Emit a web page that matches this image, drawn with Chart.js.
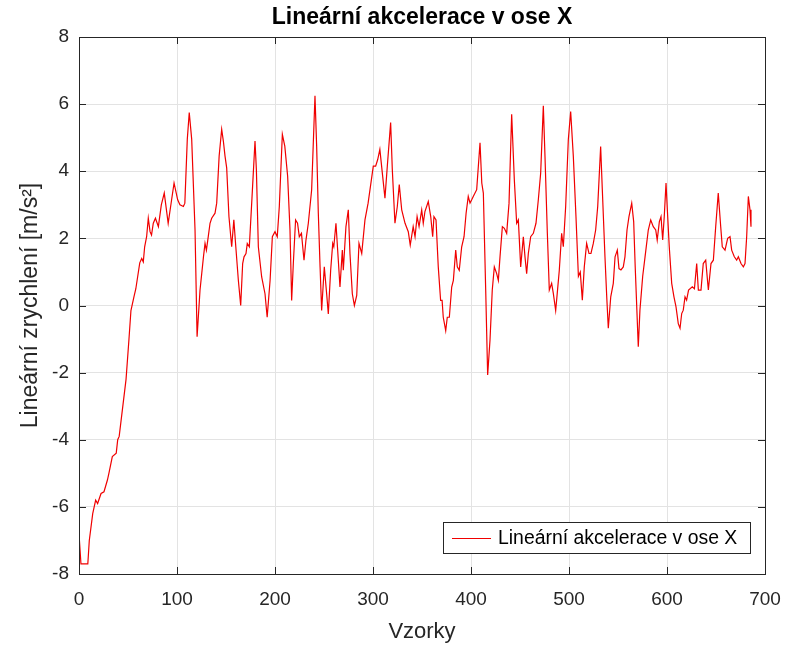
<!DOCTYPE html>
<html>
<head>
<meta charset="utf-8">
<script src="https://cdn.jsdelivr.net/npm/chart.js@4"></script>
<style>
  html, body { margin: 0; padding: 0; background: #fff; }
  #wrap { width: 786px; height: 645px; }
</style>
</head>
<body>
<div id="wrap"><canvas id="graph" width="786" height="645"></canvas></div>
<script>
// === DATA === //

const chartTitle = "Lineární akcelerace v ose X"
const xAxisTitle = "Vzorky"
const yAxisTitle = "Lineární zrychlení [m/s²]"
const seriesLabel = "Lineární akcelerace v ose X"

const xTicks = [0, 100, 200, 300, 400, 500, 600, 700]
const yTicks = [-8, -6, -4, -2, 0, 2, 4, 6, 8]

// sample index of each traced vertex
const sampleIdx = [
  0, 2, 9, 10.5, 14, 17, 19, 22.5, 25.5, 29, 30.5, 34, 38, 39.5, 41, 48, 51, 53, 56, 58,
  62, 64, 65.6, 67, 69, 70.7, 72.5, 74, 75.8, 78, 81, 84, 87, 91, 94.5, 97, 100.7, 103, 106.5, 108,
  110.5, 112.5, 115, 118.4, 120.5, 123.5, 127, 128.6, 130, 131.9, 133.7, 135.4, 138.8, 140.5, 143, 145.6, 147.3, 149, 150.7, 153,
  155.8, 158, 160, 162.6, 165, 167, 168.4, 170.4, 171.7, 173.8, 176.5, 179.6, 181, 183, 186.4, 189.8, 192, 195, 197.3, 200,
  202.3, 204.4, 207.5, 210, 212.9, 215.3, 217, 218.7, 221, 223, 224.8, 227, 229.6, 231.6, 234, 237.4, 240.8, 242.5, 244.2, 246,
  247.6, 250.3, 252.7, 254.4, 256.8, 258.9, 260, 262.2, 264.6, 266.3, 268.7, 269.7, 272.4, 274.8, 276.5, 278.9, 281, 283.4, 285.7, 288.5,
  291.8, 295, 300.3, 302.7, 304.8, 307, 309.5, 312.2, 314.6, 318, 319.7, 322.4, 324.8, 326.8, 329.3, 332.7, 336, 338, 341, 342.9,
  345, 347, 349.7, 351.3, 353, 356.4, 358.9, 360.9, 362.2, 364.3, 366.6, 369, 370.5, 371.7, 374.2, 375.8, 377.9, 380.3, 382, 384.4,
  386, 388, 390.5, 392.9, 395, 397.2, 399, 400.7, 402.3, 405.8, 409.2, 411, 412.6, 415, 417, 419.4, 421.7, 423.8, 426.2, 427.9,
  429.6, 432, 434, 436.4, 438.8, 441.5, 444.2, 446.6, 448.3, 450.7, 453.4, 455.1, 456.8, 458.5, 460.9, 463.6, 466.3, 468.7, 471.1, 473.8,
  475.5, 477.9, 479.9, 482.3, 484, 486.4, 488, 490.1, 492.5, 494.2, 496.6, 499.3, 501.7, 504.4, 507.1, 509.6, 511.5, 513.6, 515.6, 518,
  520.4, 522.4, 524.8, 527.2, 529.3, 532.3, 534, 536.7, 538.5, 540.1, 542.6, 545.2, 547, 549.3, 551, 553, 555.4, 557.1, 559.2, 561.2,
  564, 566, 567.5, 570.7, 572.4, 575.2, 577.6, 580.9, 583.4, 586, 588.5, 590, 592.2, 593.9, 595.6, 597.2, 599, 600.7, 602.3, 604.8,
  607.1, 609.2, 611.5, 613.3, 615, 616.6, 618.4, 620, 622, 625.8, 628, 630.3, 632, 634.7, 637, 639.5, 642.2, 644.9, 647.3, 649.7,
  652.3, 654.8, 656.4, 659.2, 661.9, 664.3, 666, 668.7, 671.1, 672.8, 675.5, 677.9, 679.6, 681.3, 683, 684.7, 685.7
]

// acceleration at each vertex [m/s^2]
const accelX = [
  -6.8, -7.7, -7.7, -7.0, -6.2, -5.8, -5.9, -5.6, -5.55, -5.2, -5.0, -4.5, -4.4, -4.0, -3.9, -2.2, -1.0, -0.15, 0.25, 0.5,
  1.27, 1.4, 1.3, 1.75, 2.05, 2.6, 2.2, 2.1, 2.45, 2.6, 2.35, 3.0, 3.35, 2.45, 3.15, 3.65, 3.15, 3.0, 2.95, 3.05,
  4.95, 5.75, 4.95, 2.25, -0.93, 0.46, 1.45, 1.85, 1.65, 2.05, 2.45, 2.6, 2.75, 3.05, 4.45, 5.25, 4.9, 4.45, 4.1, 2.65,
  1.75, 2.55, 1.75, 0.75, 0.0, 1.25, 1.45, 1.55, 1.85, 1.75, 3.2, 4.9, 4.05, 1.75, 0.85, 0.35, -0.35, 0.75, 2.05, 2.2,
  2.05, 2.95, 5.1, 4.75, 3.85, 2.25, 0.15, 1.25, 2.55, 2.45, 2.05, 2.15, 1.35, 1.95, 2.45, 3.45, 6.25, 4.75, 2.75, 1.15,
  -0.15, 1.15, 0.35, -0.25, 1.05, 1.85, 1.75, 2.45, 1.35, 0.55, 1.65, 1.05, 2.35, 2.85, 1.55, 0.35, 0.0, 0.3, 1.85, 1.55,
  2.55, 3.05, 4.15, 4.15, 4.35, 4.65, 3.95, 3.2, 4.15, 5.45, 4.05, 2.45, 2.95, 3.6, 2.85, 2.45, 2.2, 1.8, 2.35, 2.05,
  2.65, 2.35, 2.85, 2.45, 2.8, 3.1, 2.65, 2.05, 2.65, 2.55, 1.15, 0.15, 0.15, -0.35, -0.75, -0.35, -0.35, 0.55, 0.75, 1.65,
  1.15, 1.05, 1.75, 2.05, 2.75, 3.25, 3.05, 3.15, 3.25, 3.45, 4.85, 3.65, 3.35, 0.46, -2.07, -1.03, 0.46, 1.15, 0.95, 0.75,
  1.45, 2.35, 2.3, 2.15, 3.05, 5.7, 3.75, 2.45, 2.55, 1.15, 2.05, 1.45, 0.95, 1.55, 2.05, 2.15, 2.45, 3.15, 3.95, 5.95,
  4.45, 2.15, 0.46, 0.66, 0.36, -0.15, 0.36, 1.05, 2.15, 1.75, 2.95, 4.94, 5.78, 4.45, 2.66, 0.87, 1.0, 0.16, 1.15, 1.85,
  1.55, 1.55, 1.85, 2.25, 2.95, 4.74, 3.45, 1.45, 0.26, -0.68, 0.26, 0.66, 1.45, 1.65, 1.1, 1.06, 1.15, 1.45, 2.25, 2.65,
  3.05, 2.5, 1.2, -1.23, -0.13, 0.87, 1.45, 2.25, 2.55, 2.35, 2.25, 1.95, 2.5, 2.65, 1.95, 2.65, 3.65, 2.65, 1.75, 0.66,
  0.26, -0.04, -0.54, -0.68, -0.24, -0.14, 0.26, 0.16, 0.46, 0.56, 0.5, 1.25, 0.46, 0.46, 1.25, 1.35, 0.46, 1.25, 1.35, 2.35,
  3.35, 2.35, 1.75, 1.65, 2.0, 2.05, 1.65, 1.45, 1.35, 1.45, 1.25, 1.15, 1.25, 2.05, 3.25, 2.85, 2.35
]

// === STYLE === //

const textColor = "#262626"
const axisColor = "#262626"
const gridColor = "#e3e3e3"
const lineColor = "#f00000"
const fontFamily = "'Liberation Sans', Arial, Helvetica, sans-serif"

// === PLUGINS === //

// MATLAB-like box: frame, inward ticks, title, axis labels and legend inside the axes
const matlabDecor = {
  id: "matlabDecor",
  afterDraw(chart) {
    const ctx = chart.ctx
    const area = chart.chartArea
    const xs = chart.scales.x
    const ys = chart.scales.y
    const tickLen = 7

    ctx.save()
    ctx.strokeStyle = axisColor
    ctx.lineWidth = 1
    ctx.beginPath()
    xTicks.forEach(v => {
      const px = Math.round(xs.getPixelForValue(v)) + 0.5
      ctx.moveTo(px, area.bottom); ctx.lineTo(px, area.bottom - tickLen)
      ctx.moveTo(px, area.top); ctx.lineTo(px, area.top + tickLen)
    })
    yTicks.forEach(v => {
      const py = Math.round(ys.getPixelForValue(v)) + 0.5
      ctx.moveTo(area.left, py); ctx.lineTo(area.left + tickLen, py)
      ctx.moveTo(area.right, py); ctx.lineTo(area.right - tickLen, py)
    })
    ctx.stroke()
    ctx.strokeRect(Math.round(area.left) + 0.5, Math.round(area.top) + 0.5,
      Math.round(area.right - area.left), Math.round(area.bottom - area.top))

    // title
    ctx.fillStyle = "#000"
    ctx.textAlign = "center"
    ctx.textBaseline = "middle"
    ctx.font = "bold 23px " + fontFamily
    ctx.fillText(chartTitle, (area.left + area.right) / 2, 18)

    // axis titles
    ctx.fillStyle = textColor
    ctx.font = "22px " + fontFamily
    ctx.fillText(xAxisTitle, (area.left + area.right) / 2, 632)
    ctx.save()
    ctx.translate(31, (area.top + area.bottom) / 2)
    ctx.rotate(-Math.PI / 2)
    ctx.font = "23px " + fontFamily
    ctx.fillText(yAxisTitle, 0, 0)
    ctx.restore()

    // legend
    const lx = 443, ly = 522, lw = 307, lh = 31
    ctx.fillStyle = "#fff"
    ctx.fillRect(lx, ly, lw, lh)
    ctx.strokeStyle = axisColor
    ctx.strokeRect(lx + 0.5, ly + 0.5, lw, lh)
    ctx.strokeStyle = lineColor
    ctx.beginPath()
    ctx.moveTo(lx + 9, ly + 16.5)
    ctx.lineTo(lx + 48, ly + 16.5)
    ctx.stroke()
    ctx.fillStyle = "#000"
    ctx.textAlign = "left"
    ctx.font = "19.4px " + fontFamily
    ctx.fillText(chart.data.datasets[0].label, lx + 55, ly + 17)
    ctx.restore()
  }
}

// === CHART === //

function setupAccelChart() {
  const points = sampleIdx.map((s, i) => ({ x: s, y: accelX[i] }))

  const data = {
    datasets: [{
      label: seriesLabel,
      data: points,
      borderColor: lineColor,
      backgroundColor: lineColor,
      borderWidth: 1.2,
      pointRadius: 0,
      tension: 0
    }]
  }

  const config = {
    type: "line",
    data,
    options: {
      responsive: false,
      animation: false,
      layout: { padding: { top: 37, right: 21, left: 0, bottom: 0 } },
      plugins: {
        legend: { display: false },
        title: { display: false },
        tooltip: { enabled: false }
      },
      scales: {
        x: {
          type: "linear",
          min: 0,
          max: 700,
          afterBuildTicks: s => { s.ticks = xTicks.map(v => ({ value: v })) },
          afterFit: s => { s.height = 71; s.paddingLeft = 0; s.paddingRight = 0 },
          grid: { color: gridColor, drawTicks: false },
          border: { display: false },
          ticks: { color: textColor, font: { family: fontFamily, size: 19 }, padding: 14, maxRotation: 0 }
        },
        y: {
          type: "linear",
          min: -8,
          max: 8,
          afterBuildTicks: s => { s.ticks = yTicks.map(v => ({ value: v })) },
          afterFit: s => { s.width = 79; s.paddingTop = 0; s.paddingBottom = 0 },
          grid: { color: gridColor, drawTicks: false },
          border: { display: false },
          ticks: { color: textColor, font: { family: fontFamily, size: 19 }, padding: 10 }
        }
      }
    },
    plugins: [matlabDecor]
  }

  new Chart(document.getElementById("graph"), config)
}

setupAccelChart()
</script>
</body>
</html>
